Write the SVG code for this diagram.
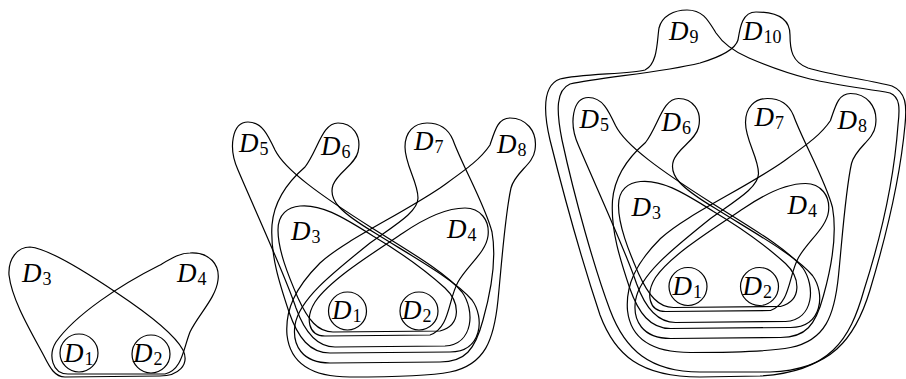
<svg xmlns="http://www.w3.org/2000/svg" width="906" height="379" viewBox="0 0 906 379">
<style>
.c{fill:none;stroke:#000;stroke-width:1.2}
.d{font-family:"Liberation Serif","DejaVu Serif",serif;font-style:italic;font-size:27px;fill:#000}
.s{font-style:normal;font-size:18px}
</style>
<rect width="906" height="379" fill="#fff"/>
<!-- Figure 1 -->
<g id="f1">
<g id="f1-D1"><circle class="c" cx="79" cy="353" r="19"/><text class="d" x="64" y="362">D<tspan class="s" dx="1" dy="3">1</tspan></text></g>
<g id="f1-D2"><circle class="c" cx="151" cy="354" r="19"/><text class="d" x="133" y="362">D<tspan class="s" dx="1" dy="3">2</tspan></text></g>
<g id="f1-D3"><path class="c" d="M 30,247 C 45,248 80,268 117,293 C 150,315 175,335 183,350 C 190,365 178,376 160,376 L 65,377 C 55,377 50,368 44,356 C 30,330 12,300 9,275 C 8,258 18,247 30,247 Z"/><text class="d" x="22" y="282">D<tspan class="s" dx="1" dy="3">3</tspan></text></g>
<g id="f1-D4"><path class="c" d="M 190,253 C 210,252 220,265 218,280 C 216,298 198,315 190,332 C 183,350 182,370 165,374 L 68,374 C 52,374 48,355 56,342 C 75,315 120,285 160,265 C 172,258 180,253 190,253 Z"/><text class="d" x="177" y="282">D<tspan class="s" dx="1" dy="3">4</tspan></text></g>
</g>
<!-- Figure 2 -->
<g id="f2">
<g id="f2-D1"><circle class="c" cx="347.5" cy="311" r="19"/><text class="d" x="332" y="319">D<tspan class="s" dx="1" dy="3">1</tspan></text></g>
<g id="f2-D2"><circle class="c" cx="419" cy="311" r="19"/><text class="d" x="402" y="319">D<tspan class="s" dx="1" dy="3">2</tspan></text></g>
<g id="f2-D3"><path class="c" d="M 300,206 C 320,204 340,215 373,236 C 400,252 425,270 445,288 C 460,302 462,325 440,331 L 333,332 C 318,332 308,320 298,298 C 288,275 278,250 278,230 C 278,214 288,207 300,206 Z"/><text class="d" x="291" y="240">D<tspan class="s" dx="1" dy="3">3</tspan></text></g>
<g id="f2-D4"><path class="c" d="M 465,208 C 480,208 490,220 488,236 C 486,252 468,265 458,282 C 448,300 450,328 430,335 L 325,336 C 308,336 305,318 315,302 C 330,280 370,255 403,233 C 425,218 448,208 465,208 Z"/><text class="d" x="447" y="238">D<tspan class="s" dx="1" dy="3">4</tspan></text></g>
<g id="f2-D5"><path class="c" d="M 248,122 C 262,122 268,135 275,150 C 285,170 320,195 372,228 C 410,252 445,272 462,292 C 475,310 474,344 445,346 L 335,347 C 318,347 305,333 296,308 C 285,275 255,210 238,170 C 228,148 232,122 248,122 Z"/><text class="d" x="239" y="152">D<tspan class="s" dx="1" dy="3">5</tspan></text></g>
<g id="f2-D6"><path class="c" d="M 338,123 C 352,123 362,135 358,152 C 355,165 338,172 333,185 C 328,200 340,212 375,233 C 415,258 455,280 472,300 C 485,318 482,352 450,352 L 330,353 C 310,353 298,338 289,312 C 280,285 270,255 272,225 C 274,200 290,180 305,167 C 318,150 322,123 338,123 Z"/><text class="d" x="321" y="155">D<tspan class="s" dx="1" dy="3">6</tspan></text></g>
<g id="f2-D7"><path class="c" d="M 427,123 C 440,123 448,128 453,140 C 462,165 485,205 492,232 C 497,260 490,295 483,320 C 475,350 465,362 440,362 L 330,363 C 302,363 292,345 295,325 C 299,300 330,275 370,243 C 395,225 418,212 418,198 C 418,182 405,165 405,147 C 405,132 414,123 427,123 Z"/><text class="d" x="414" y="150">D<tspan class="s" dx="1" dy="3">7</tspan></text></g>
<g id="f2-D8"><path class="c" d="M 510,118 C 525,118 538,130 535,150 C 533,165 515,172 511,188 C 505,215 502,260 498,300 C 494,340 485,365 450,372 C 430,376 400,377 350,377 C 310,377 290,362 287,335 C 285,310 295,288 320,263 C 345,240 400,215 440,188 C 465,170 480,160 490,145 C 495,130 498,118 510,118 Z"/><text class="d" x="497" y="153">D<tspan class="s" dx="1" dy="3">8</tspan></text></g>
</g>
<!-- Figure 3 -->
<g id="f3">
<g id="f3-D1" transform="translate(340.5,-24.5)"><circle class="c" cx="347.5" cy="311" r="19"/><text class="d" x="332" y="319">D<tspan class="s" dx="1" dy="3">1</tspan></text></g>
<g id="f3-D2" transform="translate(340.5,-24.5)"><circle class="c" cx="419" cy="311" r="19"/><text class="d" x="402" y="319">D<tspan class="s" dx="1" dy="3">2</tspan></text></g>
<g id="f3-D3" transform="translate(340.5,-24.5)"><path class="c" d="M 300,206 C 320,204 340,215 373,236 C 400,252 425,270 445,288 C 460,302 462,325 440,331 L 333,332 C 318,332 308,320 298,298 C 288,275 278,250 278,230 C 278,214 288,207 300,206 Z"/><text class="d" x="291" y="240">D<tspan class="s" dx="1" dy="3">3</tspan></text></g>
<g id="f3-D4" transform="translate(340.5,-24.5)"><path class="c" d="M 465,208 C 480,208 490,220 488,236 C 486,252 468,265 458,282 C 448,300 450,328 430,335 L 325,336 C 308,336 305,318 315,302 C 330,280 370,255 403,233 C 425,218 448,208 465,208 Z"/><text class="d" x="447" y="238">D<tspan class="s" dx="1" dy="3">4</tspan></text></g>
<g id="f3-D5" transform="translate(340.5,-24.5)"><path class="c" d="M 248,122 C 262,122 268,135 275,150 C 285,170 320,195 372,228 C 410,252 445,272 462,292 C 475,310 474,344 445,346 L 335,347 C 318,347 305,333 296,308 C 285,275 255,210 238,170 C 228,148 232,122 248,122 Z"/><text class="d" x="239" y="152">D<tspan class="s" dx="1" dy="3">5</tspan></text></g>
<g id="f3-D6" transform="translate(340.5,-24.5)"><path class="c" d="M 338,123 C 352,123 362,135 358,152 C 355,165 338,172 333,185 C 328,200 340,212 375,233 C 415,258 455,280 472,300 C 485,318 482,352 450,352 L 330,353 C 310,353 298,338 289,312 C 280,285 270,255 272,225 C 274,200 290,180 305,167 C 318,150 322,123 338,123 Z"/><text class="d" x="321" y="155">D<tspan class="s" dx="1" dy="3">6</tspan></text></g>
<g id="f3-D7" transform="translate(340.5,-24.5)"><path class="c" d="M 427,123 C 440,123 448,128 453,140 C 462,165 485,205 492,232 C 497,260 490,295 483,320 C 475,350 465,362 440,362 L 330,363 C 302,363 292,345 295,325 C 299,300 330,275 370,243 C 395,225 418,212 418,198 C 418,182 405,165 405,147 C 405,132 414,123 427,123 Z"/><text class="d" x="414" y="150">D<tspan class="s" dx="1" dy="3">7</tspan></text></g>
<g id="f3-D8" transform="translate(340.5,-24.5)"><path class="c" d="M 510,118 C 525,118 538,130 535,150 C 533,165 515,172 511,188 C 505,215 502,260 498,300 C 494,340 485,365 450,372 C 430,376 400,377 350,377 C 310,377 290,362 287,335 C 285,310 295,288 320,263 C 345,240 400,215 440,188 C 465,170 480,160 490,145 C 495,130 498,118 510,118 Z"/><text class="d" x="497" y="153">D<tspan class="s" dx="1" dy="3">8</tspan></text></g>
<g id="f3-D9"><path class="c" d="M 687,10 C 703,10 708,20 716,33 C 724,45 735,52 749,58 C 770,67 790,74 810,79 C 840,86 870,89 890,93 C 900,97 900,108 898,125 C 894,180 880,240 864,290 C 850,340 830,372 760,376 L 700,377 C 640,377 615,355 600,315 C 585,270 565,200 550,140 C 543,110 543,85 560,79 C 580,74 630,74 645,70 C 658,64 657,40 659,28 C 662,16 674,10 687,10 Z"/><text class="d" x="669" y="40">D<tspan class="s" dx="1" dy="3">9</tspan></text></g>
<g id="f3-D10"><path class="c" d="M 756,12 C 780,12 790,20 790,35 C 790,50 792,62 808,68 C 830,75 870,80 892,86 C 906,92 907,105 905,125 C 900,180 885,240 870,290 C 855,340 830,370 770,372 L 700,372 C 650,372 625,350 610,310 C 595,270 575,200 562,140 C 556,110 556,90 570,84 C 600,77 660,73 700,63 C 720,57 735,50 738,40 C 740,28 742,12 756,12 Z"/><text class="d" x="743" y="40">D<tspan class="s" dx="1" dy="3">10</tspan></text></g>
</g>
</svg>
